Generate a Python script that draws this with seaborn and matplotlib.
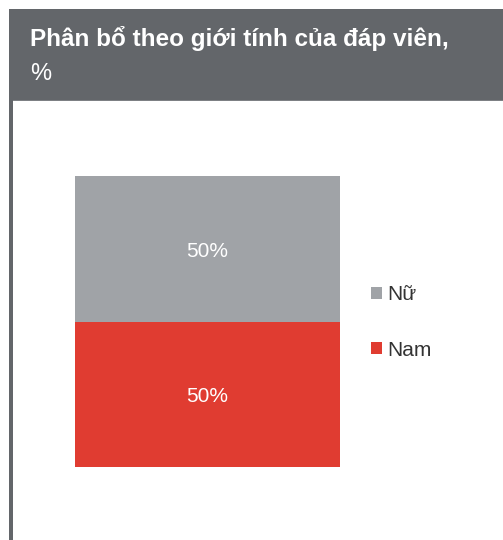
import matplotlib
matplotlib.use("Agg")
import matplotlib.pyplot as plt
from matplotlib.patches import Rectangle, Patch
from matplotlib.transforms import offset_copy
import seaborn as sns
import pandas as pd

# Survey respondents by gender, percent
categories = ["Nữ", "Nam"]
shares = [50, 50]
colors = {"Nữ": "#a0a3a7", "Nam": "#e03c31"}
title_lines = ["Phân bổ theo giới tính của đáp viên,", "%"]

sns.set_theme(style="white")
plt.rcParams["font.family"] = ["Liberation Sans", "DejaVu Sans"]

W, H, DPI = 503, 540, 100
fig = plt.figure(figsize=(W / DPI, H / DPI), dpi=DPI)
fig.patch.set_facecolor("white")

frame = "#63666a"
# Header band and left rule
fig.add_artist(Rectangle((9 / W, (H - 100) / H), 1 - 9 / W, 91 / H,
                         transform=fig.transFigure, facecolor=frame, edgecolor="none"))
fig.add_artist(Rectangle((9 / W, (H - 101) / H), 1 - 9 / W, 1.5 / H,
                         transform=fig.transFigure, facecolor="#7d8084", edgecolor="none"))
fig.add_artist(Rectangle((9 / W, 0), 4 / W, (H - 100) / H,
                         transform=fig.transFigure, facecolor=frame, edgecolor="none"))

fig.text(30 / W, 1 - 46 / H, title_lines[0], color="white", fontsize=17.5,
         fontweight="bold", ha="left", va="baseline")
fig.text(30 / W, 1 - 80 / H, title_lines[1], color="white", fontsize=17,
         ha="left", va="baseline")

# Stacked column: draw cumulative totals, top segment first
df = pd.DataFrame({"group": ["Tổng"], **{c: [v] for c, v in zip(categories, shares)}})
ax = fig.add_axes([75 / W, (H - 467) / H, 265 / W, 291 / H])
bottoms = {}
running = 0
for cat in reversed(categories):
    bottoms[cat] = running
    running += df[cat].iloc[0]
for cat in categories:  # Nữ sits on top of Nam
    total = bottoms[cat] + df[cat].iloc[0]
    sns.barplot(x=df["group"], y=[total], color=colors[cat], width=1.0,
                saturation=1, ax=ax, linewidth=0)
label_tf = offset_copy(ax.transData, fig=fig, x=0, y=-2.5, units="dots")
for cat in categories:
    v = df[cat].iloc[0]
    ax.text(0, bottoms[cat] + v / 2, f"{v}%", ha="center", va="center",
            color="white", fontsize=15, transform=label_tf)

ax.set_xlim(-0.5, 0.5)
ax.set_ylim(0, 100)
ax.axis("off")

handles = [Patch(facecolor=colors[c], edgecolor="none") for c in categories]
fig.legend(handles, categories, loc="center left",
           bbox_to_anchor=(371 / W, 1 - 322.5 / H), frameon=False, fontsize=15,
           handlelength=0.53, handleheight=0.53, handletextpad=0.25,
           labelspacing=1.75, labelcolor="#333333", borderpad=0, borderaxespad=0)

fig.savefig("out.png", dpi=DPI)
